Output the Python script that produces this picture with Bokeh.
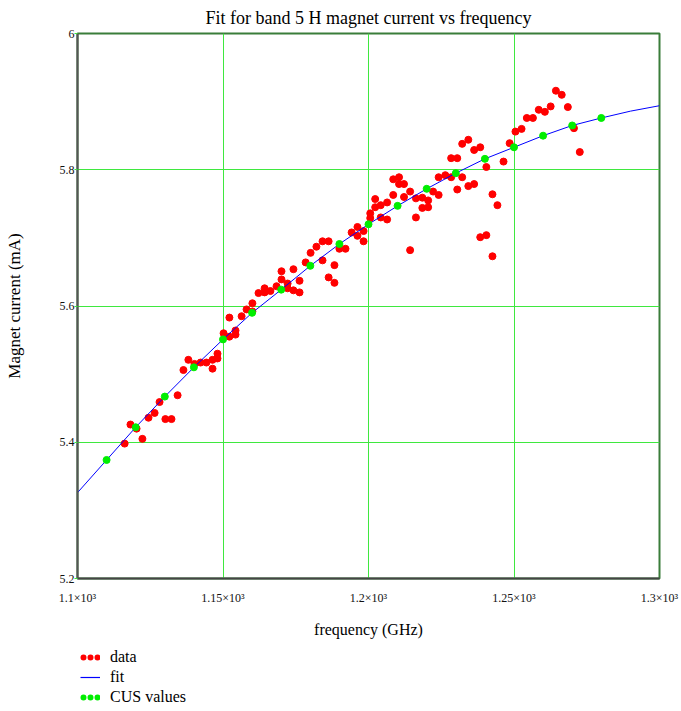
from bokeh.plotting import figure
from bokeh.layouts import column
from bokeh.models import Range1d, FixedTicker, Legend, LegendItem
from bokeh.embed import file_html
from bokeh.resources import INLINE

# measured data points (frequency GHz, magnet current mA)
data_freq = [1116.2, 1118.2, 1120.3, 1122.3, 1124.4, 1126.5, 1128.2, 1130.2, 1132.3, 1134.4,
             1136.4, 1138.1, 1140.2, 1142.3, 1144.3, 1146.4, 1146.4, 1148.1, 1148.1, 1150.2,
             1152.2, 1152.2, 1154.3, 1154.3, 1156.4, 1158.1, 1160.1, 1160.1, 1162.2, 1164.3,
             1164.3, 1166.3, 1168.4, 1170.1, 1170.1, 1172.2, 1172.2, 1174.2, 1174.2, 1176.3,
             1176.3, 1178.4, 1180.1, 1182.1, 1184.2, 1186.3, 1184.2, 1186.3, 1188.3, 1188.3,
             1190.0, 1192.1, 1194.2, 1196.2, 1196.2, 1198.3, 1198.3, 1200.6, 1200.6, 1202.3,
             1202.3, 1204.2, 1204.2, 1206.4, 1206.4, 1208.5, 1210.5, 1210.5, 1212.2, 1208.5,
             1212.2, 1214.3, 1216.3, 1216.3, 1214.3, 1218.5, 1218.5, 1220.5, 1220.5, 1222.2,
             1224.1, 1224.1, 1226.4, 1228.4, 1228.4, 1230.5, 1232.2, 1234.3, 1236.3, 1238.4,
             1232.2, 1230.5, 1234.3, 1236.3, 1240.5, 1242.6, 1244.3, 1238.4, 1240.5, 1242.6,
             1246.4, 1248.5, 1250.5, 1252.6, 1254.4, 1256.5, 1258.5, 1260.6, 1262.6, 1264.4,
             1266.4, 1268.5, 1270.6, 1272.6]
data_current = [5.398, 5.426, 5.420, 5.405, 5.436, 5.443, 5.459, 5.434, 5.434, 5.469,
                5.506, 5.521, 5.515, 5.517, 5.517, 5.508, 5.521, 5.523, 5.530, 5.560,
                5.555, 5.583, 5.564, 5.558, 5.585, 5.595, 5.604, 5.592, 5.619, 5.626,
                5.620, 5.622, 5.629, 5.651, 5.639, 5.633, 5.626, 5.654, 5.623, 5.637,
                5.620, 5.664, 5.678, 5.687, 5.695, 5.695, 5.667, 5.642, 5.660, 5.634,
                5.684, 5.684, 5.708, 5.716, 5.703, 5.710, 5.695, 5.729, 5.736, 5.757,
                5.745, 5.748, 5.730, 5.752, 5.727, 5.786, 5.789, 5.779, 5.779, 5.763,
                5.760, 5.768, 5.758, 5.730, 5.682, 5.759, 5.744, 5.755, 5.745, 5.768,
                5.763, 5.789, 5.792, 5.789, 5.817, 5.817, 5.838, 5.844, 5.829, 5.833,
                5.789, 5.771, 5.776, 5.779, 5.804, 5.764, 5.748, 5.701, 5.704, 5.673,
                5.812, 5.839, 5.856, 5.860, 5.876, 5.876, 5.888, 5.885, 5.893, 5.916,
                5.910, 5.892, 5.861, 5.826]

# fitted curve
fit_freq = [1100, 1110, 1120, 1130, 1140, 1150, 1160, 1170, 1180, 1190, 1200,
            1210, 1220, 1230, 1240, 1250, 1260, 1270, 1280, 1290, 1300]
fit_current = [5.326, 5.374, 5.422, 5.467, 5.510, 5.551, 5.590, 5.624, 5.659, 5.691, 5.720,
               5.747, 5.772, 5.795, 5.816, 5.833, 5.850, 5.865, 5.876, 5.886, 5.894]

# CUS values
cus_freq = [1110, 1120, 1130, 1140, 1150, 1160, 1170, 1180, 1190, 1200,
            1210, 1220, 1230, 1240, 1250, 1260, 1270, 1280]
cus_current = [5.374, 5.422, 5.467, 5.510, 5.551, 5.590, 5.624, 5.659, 5.691, 5.720,
               5.747, 5.772, 5.795, 5.816, 5.833, 5.850, 5.865, 5.876]

x_ticks = [1100, 1150, 1200, 1250, 1300]
x_tick_labels = ["1.1\u00d710\u00b3", "1.15\u00d710\u00b3", "1.2\u00d710\u00b3", "1.25\u00d710\u00b3", "1.3\u00d710\u00b3"]
y_ticks = [5.2, 5.4, 5.6, 5.8, 6.0]
y_tick_labels = ["5.2", "5.4", "5.6", "5.8", "6"]
legend_labels = ["data", "fit", "CUS values"]

SERIF = "Liberation Serif"
GRID = "#3fe83f"
RED = "#ff0000"
BLUE = "#0000ff"
GREEN = "#00ee00"

p = figure(width=681, height=640, output_backend="svg", toolbar_location=None,
           x_range=Range1d(1100, 1300), y_range=Range1d(5.2, 6.0),
           min_border_left=77, min_border_right=22, min_border_top=32, min_border_bottom=62,
           title="Fit for band 5 H magnet current vs frequency")

p.title.text_font = SERIF
p.title.text_font_size = "18px"
p.title.text_font_style = "normal"
p.title.text_color = "black"
p.title.align = "center"
p.title.standoff = 11
p.title.offset = 0

p.outline_line_color = "#3a7d3a"
p.outline_line_width = 2
p.background_fill_color = "white"
p.border_fill_color = "white"

# axes
p.xaxis.ticker = FixedTicker(ticks=x_ticks)
p.xaxis.major_label_overrides = {t: l for t, l in zip(x_ticks, x_tick_labels)}
p.yaxis.ticker = FixedTicker(ticks=y_ticks)
p.yaxis.major_label_overrides = {t: l for t, l in zip(y_ticks, y_tick_labels)}
p.xaxis.minor_tick_line_color = None
p.yaxis.minor_tick_line_color = None
p.xaxis.major_tick_out = 0
p.xaxis.major_tick_in = 0
p.yaxis.major_tick_out = 3
p.yaxis.major_tick_in = 0
p.yaxis.major_tick_line_color = GRID
p.xaxis.axis_line_color = "#444444"
p.yaxis.axis_line_color = "#555555"
p.xaxis.axis_line_width = 2
p.yaxis.axis_line_width = 2
for ax in (p.xaxis, p.yaxis):
    ax.major_label_text_font = SERIF
    ax.major_label_text_font_size = "12px"
    ax.major_label_text_color = "#111111"
    ax.axis_label_text_font = SERIF
    ax.axis_label_text_font_style = "normal"
    ax.axis_label_text_color = "black"
p.xaxis.axis_label_text_font_size = "16px"
p.yaxis.axis_label_text_font_size = "17px"
p.xaxis.major_label_standoff = 12
p.yaxis.major_label_standoff = 0
p.xaxis.axis_label = "frequency (GHz)"
p.yaxis.axis_label = "Magnet current (mA)"
p.xaxis.axis_label_standoff = 13
p.yaxis.axis_label_standoff = 33

# grid
p.xgrid.ticker = FixedTicker(ticks=x_ticks)
p.ygrid.ticker = FixedTicker(ticks=y_ticks)
for g in (p.xgrid, p.ygrid):
    g.grid_line_color = GRID
    g.grid_line_width = 1
    g.grid_line_alpha = 1.0

# marks
p.scatter(data_freq, data_current, size=7, fill_color=RED, line_color=RED)
p.line(fit_freq, fit_current, line_color=BLUE, line_width=1)
p.scatter(cus_freq, cus_current, size=7, fill_color=GREEN, line_color=GREEN)

# legend strip below the chart (own small canvas so it is not clipped by the plot frame);
# its proxy renderers hold the series but the strip's ranges keep them out of view
lg = figure(width=681, height=71, output_backend="svg", toolbar_location=None,
            x_range=Range1d(0, 1), y_range=Range1d(0, 1),
            x_axis_type=None, y_axis_type=None,
            min_border_left=0, min_border_right=0, min_border_top=0, min_border_bottom=0)
lg.outline_line_color = None
lg.xgrid.visible = False
lg.ygrid.visible = False
leg_data = lg.line(data_freq, data_current, line_color=RED, line_width=6,
                   line_dash="0 7", line_dash_offset=-3, line_cap="round")
leg_fit = lg.line(fit_freq, fit_current, line_color=BLUE, line_width=1.2)
leg_cus = lg.line(cus_freq, cus_current, line_color=GREEN, line_width=6,
                  line_dash="0 7", line_dash_offset=-3, line_cap="round")

legend = Legend(items=[LegendItem(label=legend_labels[0], renderers=[leg_data]),
                       LegendItem(label=legend_labels[1], renderers=[leg_fit]),
                       LegendItem(label=legend_labels[2], renderers=[leg_cus])],
                location=(3, 4), orientation="vertical",
                label_text_font=SERIF, label_text_font_size="16px", label_text_color="black",
                glyph_width=20, glyph_height=20, label_height=20, spacing=0,
                padding=0, margin=0, label_standoff=10,
                border_line_color=None, background_fill_alpha=0)
lg.add_layout(legend, "center")

layout = column(p, lg, spacing=0)
open("out.html", "w").write(file_html(layout, INLINE))
